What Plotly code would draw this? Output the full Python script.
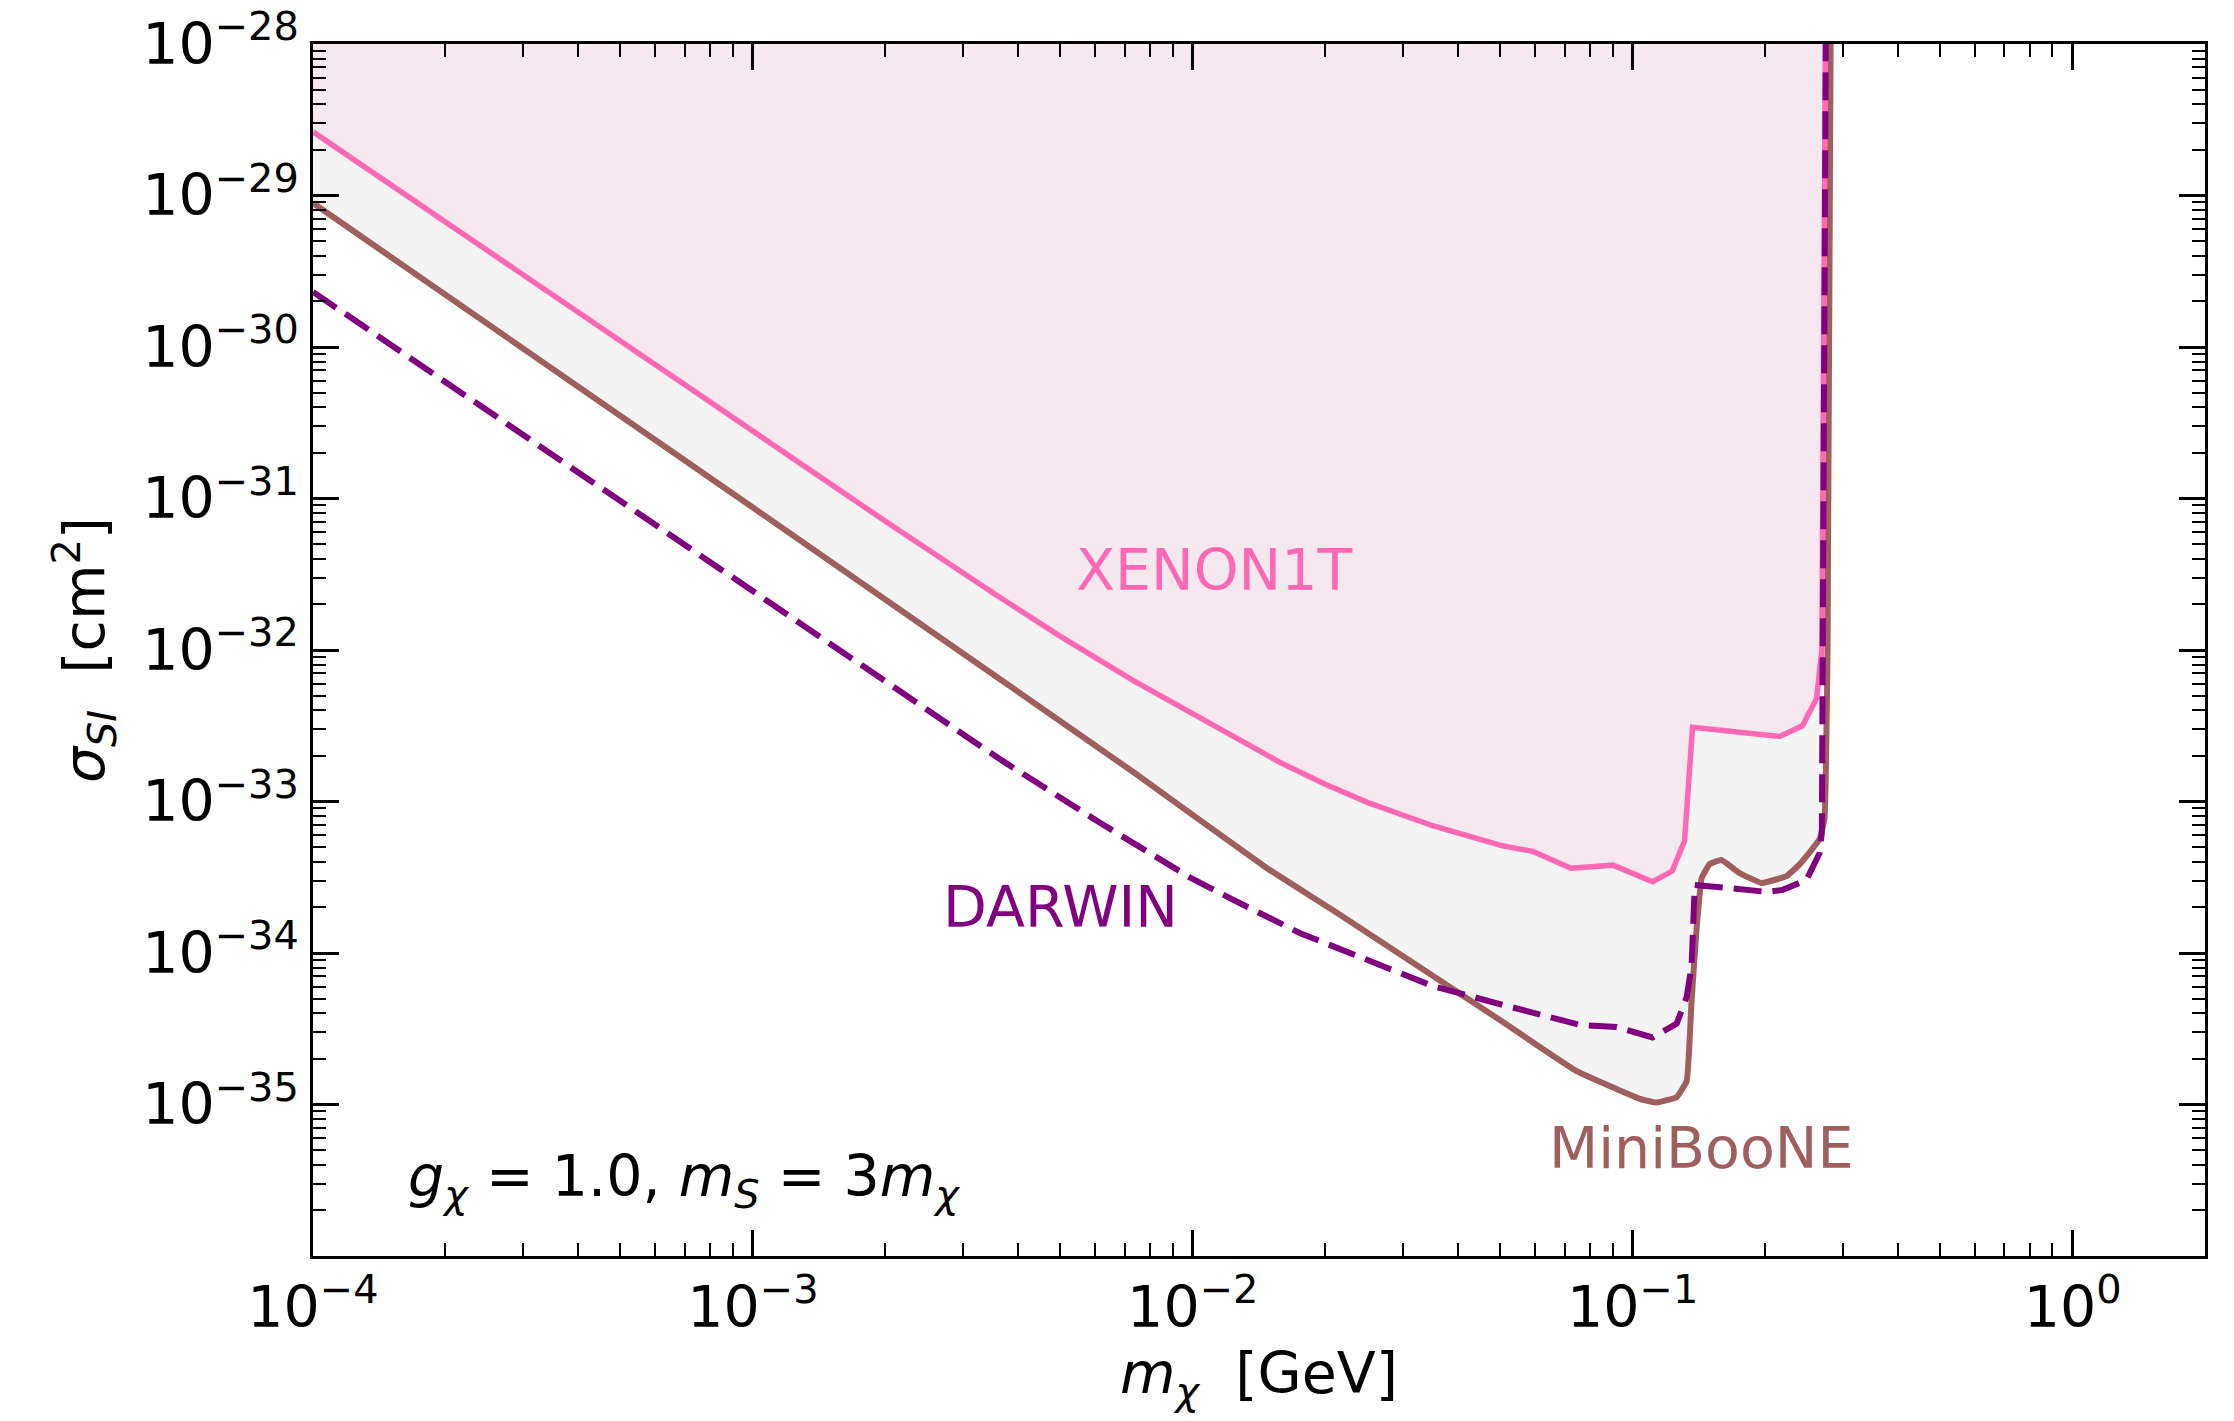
import math
import plotly.graph_objects as go

# ---------------- data ----------------
xenon_m = [1.0e-4, 1.0e-3, 2.0e-3, 3.63e-3, 5.0e-3, 7.31e-3, 1.0e-2, 1.585e-2, 2.0e-2, 2.51e-2,
           3.51e-2, 5.01e-2, 5.93e-2, 7.24e-2, 9.02e-2, 0.1109, 0.123, 0.1312, 0.1368, 0.2158,
           0.2432, 0.2618, 0.2692, 0.2742]
xenon_s = [2.63e-29, 2.75e-31, 7.08e-32, 2.24e-32, 1.23e-32, 6.31e-33, 3.80e-33, 1.8e-33, 1.3e-33,
           9.8e-34, 6.92e-34, 5.13e-34, 4.68e-34, 3.63e-34, 3.80e-34, 2.95e-34, 3.47e-34, 5.50e-34,
           3.09e-33, 2.69e-33, 3.16e-33, 4.79e-33, 1.0e-32, 1.0e-28]

mini_m = [1.0e-4, 1.0e-3, 3.64e-3, 7.31e-3, 1.472e-2, 2.08e-2, 4.99e-2, 7.46e-2, 0.1038,
          0.1135, 0.1259, 0.1327, 0.1361, 0.1396, 0.1435, 0.1496, 0.1592, 0.1750, 0.1963,
          0.2239, 0.2399, 0.2661, 0.2729, 0.2773, 0.2818]
mini_s = [8.91e-30, 8.71e-32, 6.44e-33, 1.57e-33, 3.64e-34, 1.92e-34, 3.61e-35, 1.66e-35, 1.09e-35,
          1.03e-35, 1.12e-35, 1.43e-35, 4.82e-35, 1.40e-34, 3.13e-34, 3.86e-34, 4.11e-34, 3.37e-34,
          2.90e-34, 3.22e-34, 3.86e-34, 5.65e-34, 7.78e-34, 1.0e-32, 1.0e-28]

darwin_m = [1.0e-4, 1.0e-3, 3.64e-3, 6.15e-3, 9.84e-3, 1.233e-2, 1.75e-2, 2.48e-2, 3.51e-2,
            4.99e-2, 6.24e-2, 7.59e-2, 9.20e-2, 0.1109, 0.1259, 0.1327, 0.1361, 0.1384,
            0.1687, 0.2018, 0.2193, 0.2483, 0.2661, 0.2692, 0.2704, 0.2748]
darwin_s = [2.31e-30, 2.45e-32, 1.905e-33, 7.24e-34, 3.16e-34, 2.25e-34, 1.355e-34, 9.06e-35, 6.05e-35,
            4.60e-35, 3.90e-35, 3.35e-35, 3.25e-35, 2.77e-35, 3.42e-35, 5.13e-35, 8.20e-35, 2.81e-34,
            2.67e-34, 2.53e-34, 2.61e-34, 3.03e-34, 4.57e-34, 6.30e-34, 1.0e-32, 1.0e-28]

x_range = [1e-4, 2.0]
y_range = [1e-36, 1e-28]

x_tickvals = [1e-4, 1e-3, 1e-2, 1e-1, 1e0]
x_ticktext = ["10<sup>\u22124</sup>", "10<sup>\u22123</sup>", "10<sup>\u22122</sup>",
              "10<sup>\u22121</sup>", "10<sup>0</sup>"]
y_tickvals = [1e-35, 1e-34, 1e-33, 1e-32, 1e-31, 1e-30, 1e-29, 1e-28]
y_ticktext = ["10<sup>\u221235</sup>", "10<sup>\u221234</sup>", "10<sup>\u221233</sup>",
              "10<sup>\u221232</sup>", "10<sup>\u221231</sup>", "10<sup>\u221230</sup>",
              "10<sup>\u221229</sup>", "10<sup>\u221228</sup>"]

# ---------------- styles ----------------
PINK = "#ff69b4"
BROWN = "#a05f5f"
PURPLE = "#800080"
FONT = "DejaVu Sans"
FS = 57

lx = [math.log10(v) for v in x_range]
ly = [math.log10(v) for v in y_range]

fig = go.Figure()

# gray region above MiniBooNE
fig.add_trace(go.Scatter(x=mini_m + [x_range[0]], y=mini_s + [y_range[1]], mode="lines",
                         fill="toself", fillcolor="#f4f4f4", line=dict(width=0),
                         hoverinfo="skip", showlegend=False))
# pink region above XENON1T
fig.add_trace(go.Scatter(x=xenon_m + [x_range[0]], y=xenon_s + [y_range[1]], mode="lines",
                         fill="toself", fillcolor="#f5e9ef", line=dict(width=0),
                         hoverinfo="skip", showlegend=False))
# lines
fig.add_trace(go.Scatter(x=mini_m, y=mini_s, mode="lines",
                         line=dict(color=BROWN, width=6, shape="spline", smoothing=0.3),
                         showlegend=False))
fig.add_trace(go.Scatter(x=xenon_m, y=xenon_s, mode="lines",
                         line=dict(color=PINK, width=5.5),
                         showlegend=False))
fig.add_trace(go.Scatter(x=darwin_m, y=darwin_s, mode="lines",
                         line=dict(color=PURPLE, width=6, dash="28px,11px"),
                         showlegend=False))
# dummy trace for mirrored axes
fig.add_trace(go.Scatter(x=[1e-3], y=[1e-30], xaxis="x2", yaxis="y2", mode="markers",
                         marker=dict(opacity=0), hoverinfo="skip", showlegend=False))

axis_common = dict(type="log", showgrid=False, zeroline=False, showline=True,
                   linecolor="black", linewidth=2.5, ticks="inside", ticklen=26,
                   tickwidth=2.5, tickcolor="black", automargin=False,
                   minor=dict(ticks="inside", ticklen=13, tickwidth=2, tickcolor="black",
                              dtick="D1", showgrid=False))

fig.update_layout(
    width=2234, height=1421,
    margin=dict(l=313, r=29, t=44, b=165),
    paper_bgcolor="white", plot_bgcolor="white",
    font=dict(family=FONT, size=FS, color="black"),
    xaxis=dict(**axis_common, range=lx, tickvals=x_tickvals, ticktext=x_ticktext,
               title=dict(text="<i>m</i><sub><i>\u03c7</i></sub>\u00a0\u00a0[GeV]",
                          font=dict(size=FS), standoff=10)),
    yaxis=dict(**axis_common, range=ly, tickvals=y_tickvals, ticktext=y_ticktext,
               title=dict(text="<i>\u03c3</i><sub><i>SI</i></sub>\u00a0\u00a0[cm<sup>2</sup>]",
                          font=dict(size=FS), standoff=20)),
    xaxis2=dict(**axis_common, range=lx, overlaying="x", side="top", anchor="y2",
                tickvals=x_tickvals, showticklabels=False),
    yaxis2=dict(**axis_common, range=ly, overlaying="y", side="right", anchor="x2",
                tickvals=y_tickvals, showticklabels=False),
    annotations=[
        dict(x=-1.952, y=-31.472, xref="x", yref="y", text="XENON1T", showarrow=False,
             font=dict(color=PINK, size=FS), xanchor="center", yanchor="middle"),
        dict(x=-2.300, y=-33.696, xref="x", yref="y", text="DARWIN", showarrow=False,
             font=dict(color=PURPLE, size=FS), xanchor="center", yanchor="middle"),
        dict(x=-0.845, y=-35.287, xref="x", yref="y", text="MiniBooNE", showarrow=False,
             font=dict(color=BROWN, size=FS), xanchor="center", yanchor="middle"),
        dict(x=0.049, y=0.063, xref="paper", yref="paper",
             text="<i>g</i><sub><i>\u03c7</i></sub> = 1.0, <i>m</i><sub><i>S</i></sub> = 3<i>m</i><sub><i>\u03c7</i></sub>",
             showarrow=False, font=dict(color="black", size=FS), xanchor="left",
             yanchor="middle"),
    ],
)

fig.write_html("out.html")
